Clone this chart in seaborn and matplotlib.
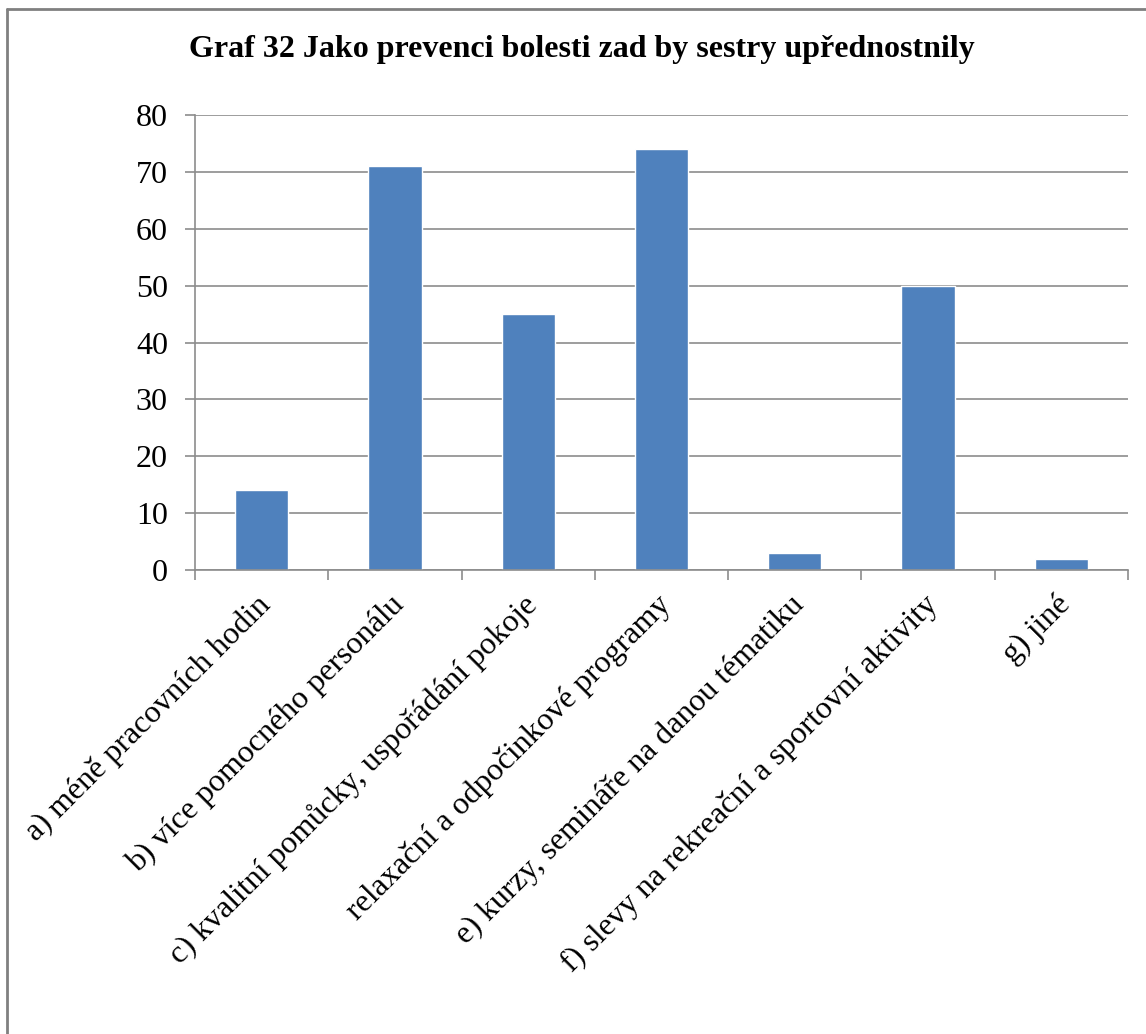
import matplotlib
matplotlib.use("Agg")
import matplotlib.pyplot as plt
import matplotlib.transforms as mtransforms
from matplotlib.lines import Line2D
import seaborn as sns
import pandas as pd

categories = [
    "a) méně pracovních hodin",
    "b) více pomocného personálu",
    "c) kvalitní pomůcky, uspořádání pokoje",
    "relaxační a odpočinkové programy",
    "e) kurzy, semináře na danou tématiku",
    "f) slevy na rekreační a sportovní aktivity",
    "g) jiné",
]
values = [14, 71, 45, 74, 3, 50, 2]
y_ticks = [0, 10, 20, 30, 40, 50, 60, 70, 80]
title = "Graf 32 Jako prevenci bolesti zad by sestry upřednostnily"

sns.set_theme(style="white")
plt.rcParams["font.family"] = ["Liberation Serif", "DejaVu Serif"]

df = pd.DataFrame({"cat": categories, "val": values})

fig = plt.figure(figsize=(11.46, 10.34), dpi=100)
fig.patch.set_facecolor("white")
ax = fig.add_axes([195 / 1146, 1 - 570 / 1034, (1128 - 195) / 1146, (570 - 115) / 1034])

sns.barplot(data=df, x="cat", y="val", color="#4F81BD", saturation=1, width=0.4, ax=ax)

grid_c = "#8C8C8C"
ax.set_xlim(-0.5, len(categories) - 0.5)
ax.set_ylim(0, 80)
ax.set_yticks(y_ticks)
ax.set_yticklabels([str(t) for t in y_ticks], fontsize=23)
ax.yaxis.grid(True, color=grid_c, linewidth=1.2)
ax.set_axisbelow(True)
ax.set_xlabel("")
ax.set_ylabel("")

for s in ["top", "right"]:
    ax.spines[s].set_visible(False)
for s in ["left", "bottom"]:
    ax.spines[s].set_color(grid_c)
    ax.spines[s].set_linewidth(1.2)

ax.tick_params(axis="y", which="major", direction="out", length=7.5, width=1.2,
               color=grid_c, pad=12, left=True, labelcolor="black")
ax.set_xticks(range(len(categories)))
ax.set_xticklabels(categories, fontsize=23, rotation=45, ha="right",
                   rotation_mode="anchor", va="center")
ax.tick_params(axis="x", which="major", length=0, pad=22, labelcolor="black")
ax.set_xticks([i - 0.5 for i in range(len(categories) + 1)], minor=True)
ax.tick_params(axis="x", which="minor", direction="out", length=7.5, width=1.2,
               color=grid_c, bottom=True)

offset = mtransforms.ScaledTranslation(5 / 100, 0, fig.dpi_scale_trans)
for lbl in ax.get_xticklabels():
    lbl.set_transform(lbl.get_transform() + offset)

fig.text(582 / 1146, 1 - 49 / 1034, title, ha="center", va="center",
         fontsize=23, fontweight="bold", color="black")

border_c = "#808080"
fig.add_artist(Line2D([7 / 1146, 7 / 1146], [0, 1 - 9 / 1034], transform=fig.transFigure,
                      color=border_c, linewidth=2))
fig.add_artist(Line2D([7 / 1146, 1], [1 - 9 / 1034, 1 - 9 / 1034], transform=fig.transFigure,
                      color=border_c, linewidth=2))

fig.savefig("out.png", dpi=100, facecolor="white")
